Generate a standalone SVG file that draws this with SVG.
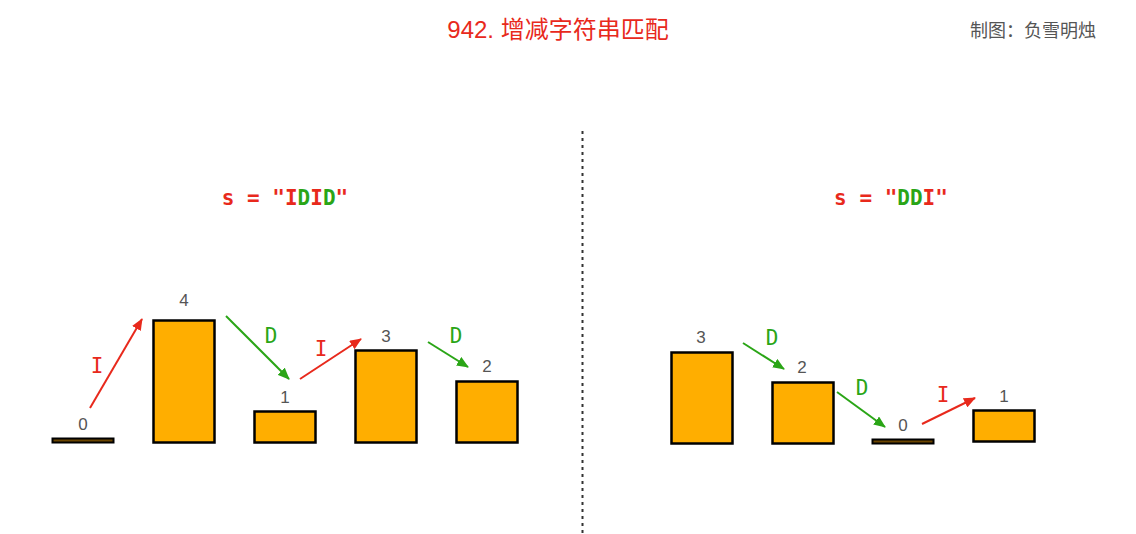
<svg xmlns="http://www.w3.org/2000/svg" width="1136" height="534" viewBox="0 0 1136 534">
<style>
.bar{fill:#FFAE00;stroke:#000;stroke-width:2.5}
.flat{fill:#6b4500;stroke:#000;stroke-width:2}
.num{font-family:"Liberation Sans",Arial,sans-serif;font-size:17px;fill:#555;text-anchor:middle}
.lbl{font-family:"DejaVu Sans Mono","Liberation Mono",monospace;font-size:21px;text-anchor:middle}
.red{fill:#E8291C}
.green{fill:#2AA516}
.ar{stroke-width:2;fill:none}
.ar.r{stroke:#E8291C;marker-end:url(#hr)}
.ar.g{stroke:#2AA516;marker-end:url(#hg)}
.title{font-family:"Liberation Sans","Noto Sans CJK SC",sans-serif;font-size:24px;fill:#E8291C;text-anchor:middle}
.credit{font-family:"Liberation Sans","Noto Sans CJK SC",sans-serif;font-size:18px;fill:#555}
.s{font-family:"DejaVu Sans Mono","Liberation Mono",monospace;font-size:21px;font-weight:bold;text-anchor:middle}
</style>
<defs>
<marker id="hr" viewBox="0 0 12 10" refX="11" refY="5" markerWidth="12" markerHeight="10" markerUnits="userSpaceOnUse" orient="auto"><path d="M0,0 L12,5 L0,10 Z" fill="#E8291C"/></marker>
<marker id="hg" viewBox="0 0 12 10" refX="11" refY="5" markerWidth="12" markerHeight="10" markerUnits="userSpaceOnUse" orient="auto"><path d="M0,0 L12,5 L0,10 Z" fill="#2AA516"/></marker>
</defs>
<rect width="1136" height="534" fill="#fff"/>
<text class="title" x="558" y="38">942. 增减字符串匹配</text>
<text class="credit" x="970" y="37">制图：负雪明烛</text>
<line x1="582.5" y1="131" x2="582.5" y2="534" stroke="#333" stroke-width="2" stroke-dasharray="3,4"/>
<text class="s" x="285" y="205"><tspan class="red">s = "I</tspan><tspan class="green">D</tspan><tspan class="red">I</tspan><tspan class="green">D</tspan><tspan class="red">"</tspan></text>
<text class="s" x="891" y="205"><tspan class="red">s = "</tspan><tspan class="green">DD</tspan><tspan class="red">I"</tspan></text>
<g id="left-0"><rect class="flat" x="52.5" y="438.5" width="61" height="4"/><text class="num" x="83" y="430">0</text></g>
<g id="left-4"><rect class="bar" x="153.5" y="320.5" width="61" height="122"/><text class="num" x="184" y="306">4</text></g>
<g id="left-1"><rect class="bar" x="254.5" y="411.5" width="61" height="31"/><text class="num" x="285" y="403">1</text></g>
<g id="left-3"><rect class="bar" x="355.5" y="350.5" width="61" height="92"/><text class="num" x="386" y="342">3</text></g>
<g id="left-2"><rect class="bar" x="456.5" y="381.5" width="61" height="61"/><text class="num" x="487" y="372">2</text></g>
<g id="right-3"><rect class="bar" x="671.5" y="352.5" width="61" height="91"/><text class="num" x="701" y="343">3</text></g>
<g id="right-2"><rect class="bar" x="772.5" y="382.5" width="61" height="61"/><text class="num" x="802" y="373">2</text></g>
<g id="right-0"><rect class="flat" x="872.5" y="439.5" width="61" height="4"/><text class="num" x="903" y="431">0</text></g>
<g id="right-1"><rect class="bar" x="973.5" y="410.5" width="61" height="31"/><text class="num" x="1004" y="402">1</text></g>
<g id="connectors">
<line class="ar r" x1="90" y1="408" x2="142" y2="319"/>
<line class="ar g" x1="226" y1="316" x2="289" y2="379"/>
<line class="ar r" x1="300" y1="379" x2="361" y2="339"/>
<line class="ar g" x1="428" y1="342" x2="468" y2="367"/>
<line class="ar g" x1="743" y1="343" x2="784" y2="369"/>
<line class="ar g" x1="837" y1="392" x2="885" y2="427"/>
<line class="ar r" x1="922" y1="424" x2="975" y2="398"/>
<text class="lbl red" x="97" y="373">I</text>
<text class="lbl green" x="271" y="343">D</text>
<text class="lbl red" x="321" y="356">I</text>
<text class="lbl green" x="456" y="343">D</text>
<text class="lbl green" x="772" y="345">D</text>
<text class="lbl green" x="862" y="395">D</text>
<text class="lbl red" x="943" y="402">I</text>
</g>
</svg>
